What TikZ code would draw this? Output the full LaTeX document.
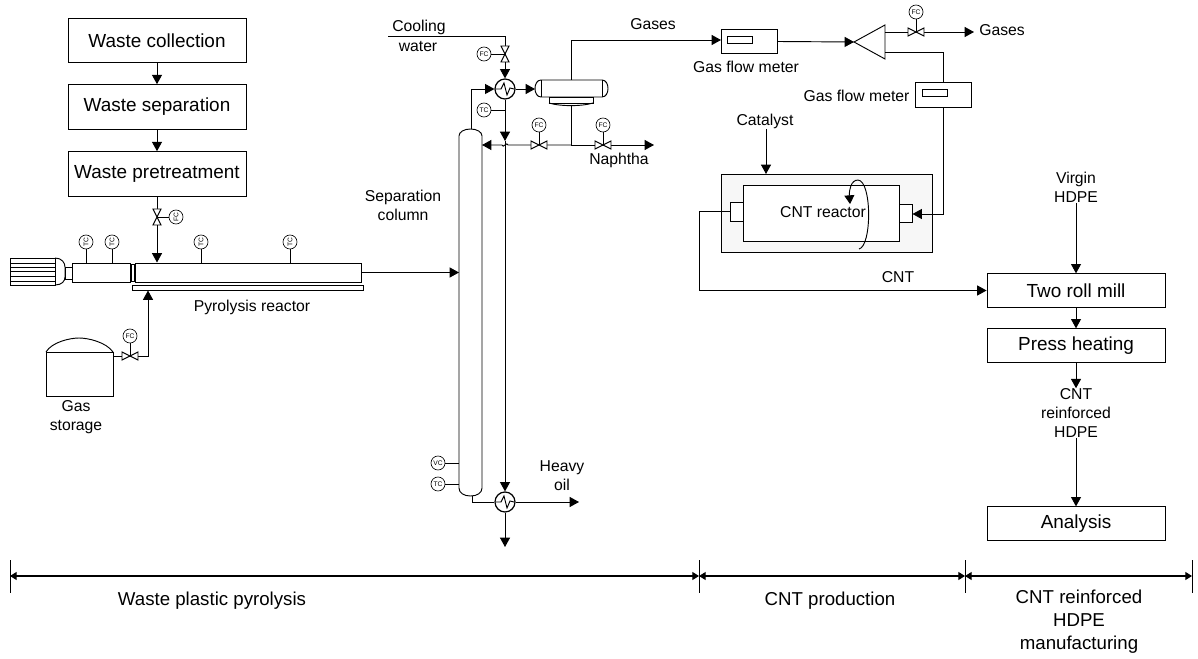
\documentclass[tikz,border=0pt]{standalone}
\usepackage{fontspec}
\setmainfont{Liberation Sans}
\usetikzlibrary{arrows.meta}
\definecolor{shell}{HTML}{F7F7F7}
\tikzset{
 x=0.75pt,y=-0.75pt,
 line/.style={line width=0.7pt,black},
 arr/.style={line,-{Triangle[length=7pt,width=7.5pt]}},
 dim/.style={line width=0.8pt,{Triangle[length=5pt,width=6pt]}-{Triangle[length=5pt,width=6pt]}},
 box/.style={draw,line width=0.7pt,minimum width=133.5pt,minimum height=33.5pt,inner sep=0pt,font=\fontsize{14.2}{16}\selectfont},
 mbox/.style={draw,line width=0.7pt,minimum width=133.5pt,minimum height=25pt,inner sep=0pt,font=\fontsize{14.2}{16}\selectfont},
 meter/.style={draw,line width=0.7pt,minimum width=42pt,minimum height=18.5pt,inner sep=0pt},
 lab/.style={font=\fontsize{11.8}{14.25}\selectfont,align=center,inner sep=0pt},
 big/.style={font=\fontsize{14}{16}\selectfont,align=center,inner sep=0pt},
 inst/.style={circle,draw,line width=0.5pt,fill=white,minimum size=10.5pt,inner sep=0pt,font=\fontsize{5}{5}\selectfont},
 exch/.style={circle,draw,line width=0.9pt,fill=white,minimum size=15pt,inner sep=0pt},
}
\newcommand{\valveH}[2]{\draw[line,fill=white] (#1-8,#2-4) -- (#1+8,#2+4) -- (#1+8,#2-4) -- (#1-8,#2+4) -- cycle;}
\newcommand{\valveV}[2]{\draw[line,fill=white] (#1-4,#2-8) -- (#1+4,#2+8) -- (#1-4,#2+8) -- (#1+4,#2-8) -- cycle;}
\newcommand{\zig}[2]{\draw[line] (#1-9,#2) -- (#1-4,#2) -- (#1-1,#2-6) -- (#1+2,#2+6) -- (#1+5,#2-1) -- (#1+9,#2);}
\begin{document}
\begin{tikzpicture}
\useasboundingbox (0,0) rectangle (1198,659);
% process boxes
\node[box] (wc) at (157,40.5) {Waste collection};
\node[box] (ws) at (157,107) {Waste separation};
\node[box] (wp) at (157,174) {Waste pretreatment};
\draw[arr] (wc) -- (ws);
\draw[arr] (ws) -- (wp);
% motor
\draw[line] (10,258) rectangle (55,285);
\foreach \y in {263,267,271,276,281}{\draw[line] (10,\y) -- (55,\y);}
\draw[line] (55,258) .. controls (62,258) and (65,263) .. (65,267) -- (65,277) .. controls (65,281) and (62,285) .. (55,285);
\draw[line] (65,267) rectangle (72,279);
\draw[line] (72,263) rectangle (130.5,282);
\draw[line] (131,264) rectangle (134,281);
% reactor
\node[draw,line width=0.7pt,minimum width=169.5pt,minimum height=14.25pt,inner sep=0pt] (pr) at (248,272.5) {};
\draw[line] (132.5,285.5) rectangle (363.5,290);
\node[lab] (prl) at (252,307) {Pyrolysis reactor};
\node[inst,rotate=90] (t1) at (86,242) {TC};
\node[inst,rotate=90] (t2) at (112,242) {TC};
\node[inst,rotate=90] (t3) at (201,242) {TC};
\node[inst,rotate=90] (t4) at (290,242) {TC};
\draw[line] (t1) -- (86,263);
\draw[line] (t2) -- (112,263);
\draw[line] (t3) -- (201,263);
\draw[line] (t4) -- (290,263);
% feed
\draw[arr] (wp) -- (157,262.5);
\node[inst,rotate=90] (fc0) at (176,217) {FC};
\draw[line] (fc0) -- (157,217);
\valveV{157}{217}
% gas storage
\draw[line] (46,352) rectangle (113,396);
\draw[line] (46,352) .. controls (52,342) and (70,338) .. (79,338) .. controls (88,338) and (106,342) .. (113,352);
\coordinate (gs) at (113,356);
\draw[arr] (gs) -- (148,356) -- (148,290.5);
\node[inst] (fc1) at (130,336) {FC};
\draw[line] (fc1) -- (130,356);
\valveH{130}{356}
\node[lab] (gsl) at (76,417) {Gas\\storage};
% column
\draw[line] (459,136) .. controls (459,132) and (464,129) .. (470.5,129) .. controls (477,129) and (482,132) .. (482,136) -- (482,488)
  .. controls (482,493) and (477,496) .. (470.5,496) .. controls (464,496) and (459,493) .. (459,488) -- cycle;
\coordinate (colin) at (459,272.5);
\draw[arr] (pr.east) -- (colin);
\node[lab] (scl) at (403,205.5) {Separation\\column};
\node[inst] (vc) at (438,463) {VC};
\node[inst] (tc2) at (438,484) {TC};
\draw[line] (vc) -- (459,463);
\draw[line] (tc2) -- (459,484);
% cooling water
\node[lab] at (419,27) {Cooling};
\node[lab] at (418,46) {water};
\coordinate (cw) at (388,36);
\node[exch] (hx1) at (505,89) {};
\node[exch] (hx2) at (505,502) {};
\draw[arr] (cw) -- (505,36) -- (hx1);
\valveV{505}{54}
\node[inst] (fc2) at (484,54) {FC};
\draw[line] (fc2) -- (505,54);
% overhead
\draw[arr] (471,129) -- (471,89) -- (hx1);
% drum
\draw[line] (541,80) .. controls (533,80) and (533,97) .. (541,97) -- (602,97) .. controls (610,97) and (610,80) .. (602,80) -- cycle;
\draw[line] (541,80) -- (541,97);
\draw[line] (602,80) -- (602,97);
\draw[line] (549,97) rectangle (593,103);
\draw[line] (549,103) .. controls (560,106.5) and (582,106.5) .. (593,103);
\coordinate (dr) at (535,89);
\draw[arr] (hx1) -- (dr);
\zig{505}{89}
% TC and down line
\node[inst] (tc1) at (484,110) {TC};
\draw[line] (tc1) -- (505,110);
\draw[arr] (hx1) -- (505,141);
\draw[arr] (505,141) -- (hx2);
\zig{505}{502}
% bottom of the column
\draw[line] (472,496) -- (472,502) -- (hx2);
\draw[arr] (hx2) -- (579,502);
\draw[arr] (hx2) -- (505,547);
\node[lab] at (562,475.5) {Heavy\\oil};
% reflux
\draw[line] (571,105) -- (571,145);
\draw[arr] (571,145) -- (508,145) .. controls (507,141) and (503,149) .. (502,145) -- (482,145);
\valveH{539}{145}
\node[inst] (fc3) at (539,125) {FC};
\draw[line] (fc3) -- (539,145);
\draw[arr] (571,145) -- (654,145);
\valveH{603}{145}
\node[inst] (fc4) at (603,125) {FC};
\draw[line] (fc4) -- (603,145);
\node[lab] at (619,160) {Naphtha};
% gases
\node[lab] at (653,24) {Gases};
\node[meter] (m1) at (749,41.5) {};
\draw[line] (727,36) rectangle (752,43);
\coordinate (m1in) at (721,40);
\draw[arr] (571,80) -- (571,40) -- (m1in);
\node[lab] at (746,67) {Gas flow meter};
% splitter
\draw[line] (854,42) -- (885,25) -- (885,59) -- cycle;
\draw[arr] (m1.east) -- (854,42);
\coordinate (sp1) at (885,32);
\node[inst] (fc5) at (916,12) {FC};
\draw[arr] (sp1) -- (974,32);
\draw[line] (fc5) -- (916,32);
\valveH{916}{32}
\node[lab] at (1002,30) {Gases};
\node[meter] (m2) at (943,95) {};
\draw[line] (922,89) rectangle (947,96);
\draw[line] (885,52) -- (943,52) -- (m2.north);
\node[lab] at (856.5,96) {Gas flow meter};
% CNT reactor
\node[draw,line width=0.7pt,fill=shell,minimum width=158.25pt,minimum height=58.5pt,inner sep=0pt] (cr) at (826.5,213) {};
\node[draw,line width=0.7pt,fill=white,minimum width=117pt,minimum height=42pt,inner sep=0pt] (ci) at (821,213) {};
\draw[line,fill=white] (730,202) rectangle (743,221);
\draw[line,fill=white] (899,204) rectangle (912,222);
\node[lab] at (823,212) {CNT reactor};
\draw[line,-{Triangle[length=6.5pt,width=7.5pt]}] (859,249) .. controls (872,246) and (872,181) .. (858,180) .. controls (851,180) and (849,190) .. (850,204);
\node[lab] at (765,121) {Catalyst};
\coordinate (cat) at (766,129);
\draw[arr] (cat) -- (766,174);
\draw[arr] (m2.south) -- (943,214) -- (912.5,214);
% right boxes
\node[mbox] (tr) at (1076,290.5) {Two roll mill};
\node[mbox] (ph) at (1076,345.5) {Press heating};
\node[mbox] (an) at (1076,523.5) {Analysis};
\draw[arr] (tr) -- (ph);
\node[lab] (vh) at (1076,187.5) {Virgin\\HDPE};
\draw[arr] (vh) -- (tr);
\node[lab] (crh) at (1076,413) {CNT\\reinforced\\HDPE};
\draw[arr] (ph) -- (crh);
\draw[arr] (crh) -- (an);
\draw[arr] (730,211) -- (699,211) |- (tr.west);
\node[lab] at (898,277) {CNT};
% bottom
\coordinate (d0) at (10,576);\coordinate (d1) at (699,576);\coordinate (d2) at (965,576);\coordinate (d3) at (1192,576);
\foreach \p in {d0,d1,d2,d3}{\draw[line width=0.5pt] (\p)++(0,-16) -- ++(0,33);}
\draw[dim] (d0) -- (d1);
\draw[dim] (d1) -- (d2);
\draw[dim] (d2) -- (d3);
\node[big] at (212,600.5) {Waste plastic pyrolysis};
\node[big] at (830,600.5) {CNT production};
\node[big] at (1079,621.5) {CNT reinforced\\[1.5pt]HDPE\\[1.5pt]manufacturing};
\end{tikzpicture}
\end{document}
